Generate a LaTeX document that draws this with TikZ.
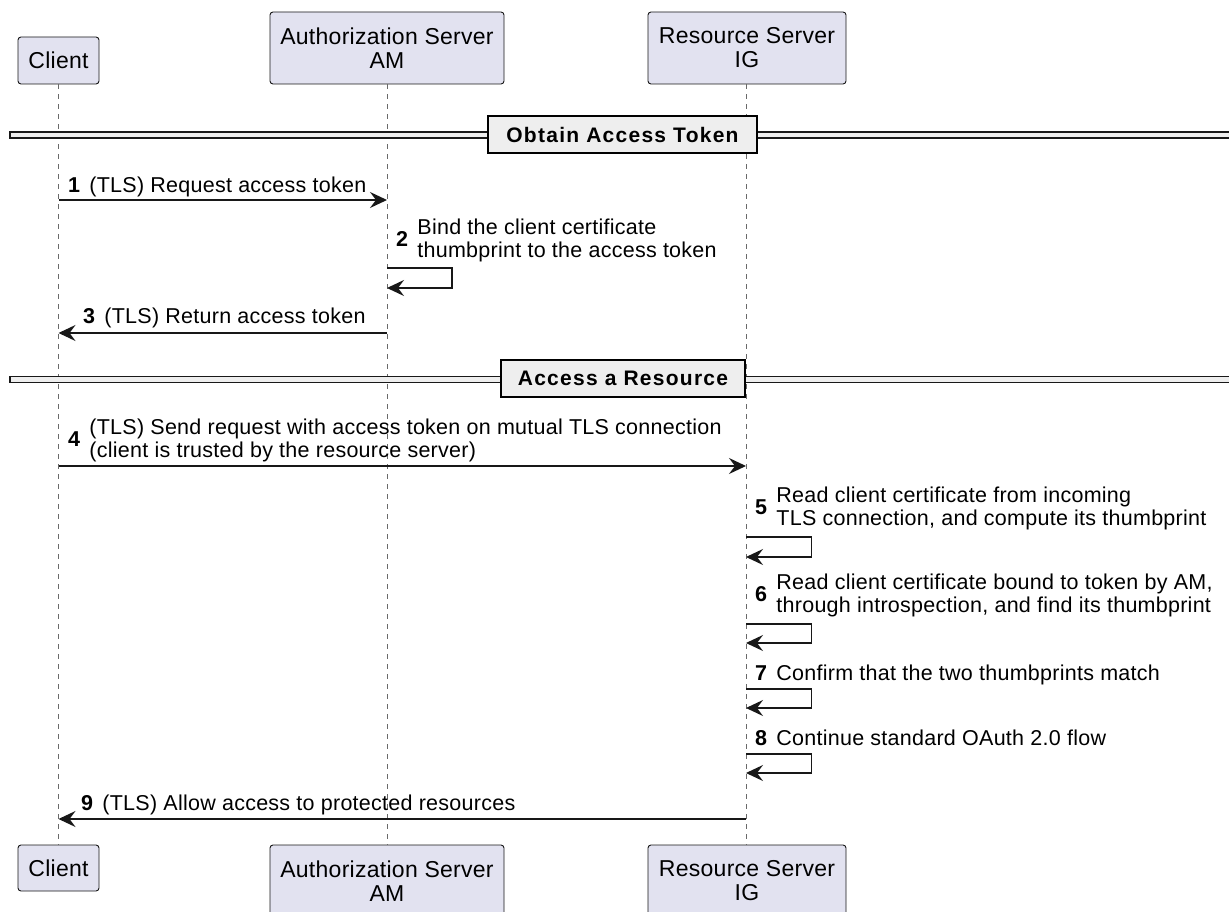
\documentclass[tikz,border=0pt]{standalone}
\usepackage{fontspec}
\setmainfont{Liberation Sans}[LetterSpace=1.2]
\newfontfamily\divfont{Liberation Sans}[LetterSpace=6]
\usetikzlibrary{arrows.meta,calc}
\definecolor{partfill}{HTML}{E2E2F0}
\definecolor{ink}{HTML}{181818}
\definecolor{divfill}{HTML}{EEEEEE}
\begin{document}
\begin{tikzpicture}[x=1pt,y=-1pt,
  part/.style={draw=ink, fill=partfill, rounded corners=3pt, line width=0.9pt,
    font=\fontsize{23}{24}\selectfont, align=center, inner sep=0pt},
  life/.style={draw=ink!65, line width=0.9pt, dash pattern=on 5pt off 5pt},
  msg/.style={draw=ink, line width=1.3pt, -{Stealth[length=17pt,width=16pt,inset=6pt]}},
  lbl/.style={inner sep=0pt, anchor=west, font=\fontsize{21.5}{23}\selectfont},
  divband/.style={draw=ink, fill=divfill, line width=1.6pt},
  divlbl/.style={draw=black, fill=divfill, line width=2.2pt,
    font=\divfont\bfseries\fontsize{21}{22}\selectfont, inner sep=0pt, minimum height=37pt}
]
\useasboundingbox[fill=white] (0,0) rectangle (1229,912);

% participants
\node[part, minimum width=81pt, minimum height=47pt] (clientT) at (58.5,60.5) {Client};
\node[part, minimum width=234pt, minimum height=72pt] (authT) at (387,48) {Authorization Server\\AM};
\node[part, minimum width=198pt, minimum height=72pt] (resT) at (747,48) {Resource Server\\IG};
\node[part, minimum width=81pt, minimum height=46pt] (clientB) at (58.5,868) {Client};
\node[part, minimum width=234pt, minimum height=72pt] (authB) at (387,881) {Authorization Server\\AM};
\node[part, minimum width=198pt, minimum height=72pt] (resB) at (747,881) {Resource Server\\IG};

% lifelines
\draw[life] (clientT.south) -- (clientB.north);
\draw[life] (authT.south) -- (authB.north);
\draw[life] (resT.south -| 746,0) -- (resB.north -| 746,0);

% dividers
\draw[divband] (10,132) rectangle (1240,138);
\node[divlbl, minimum width=269pt] (d1) at (622.5,134.5) {Obtain Access Token};
\draw[divband] (10,376.5) rectangle (1240,382.5);
\node[divlbl, minimum width=244pt] (d2) at (623,378.5) {Access a Resource};

% message endpoints
\coordinate (c1) at (clientT.south |- 0,200);
\coordinate (a1) at (authT.south |- 0,200);
\coordinate (a2s) at (authT.south |- 0,268);
\coordinate (a2e) at (authT.south |- 0,288);
\coordinate (a3) at (authT.south |- 0,333);
\coordinate (c3) at (clientT.south |- 0,333);
\coordinate (c4) at (clientT.south |- 0,466);
\coordinate (r4) at (746,466);
\coordinate (r5s) at (746,537);
\coordinate (r5e) at (746,557);
\coordinate (r6s) at (746,624);
\coordinate (r6e) at (746,643);
\coordinate (r7s) at (746,689);
\coordinate (r7e) at (746,708);
\coordinate (r8s) at (746,754);
\coordinate (r8e) at (746,773);
\coordinate (r9) at (746,819);
\coordinate (c9) at (clientT.south |- 0,819);

% messages
\draw[msg] (c1) -- (a1);
\draw[msg] (a2s) -- ++(65,0) -- ++(0,20) -- (a2e);
\draw[msg] (a3) -- (c3);
\draw[msg] (c4) -- (r4);
\draw[msg] (r5s) -- ++(65.5,0) -- ++(0,20) -- (r5e);
\draw[msg] (r6s) -- ++(65.5,0) -- ++(0,19) -- (r6e);
\draw[msg] (r7s) -- ++(65.5,0) -- ++(0,19) -- (r7e);
\draw[msg] (r8s) -- ++(65.5,0) -- ++(0,19) -- (r8e);
\draw[msg] (r9) -- (c9);

% labels
\node[lbl] (l1) at (68,187) {\textbf{1}\hspace{9pt}(TLS) Request access token};
\node[lbl] (l2) at (396,241.5) {\textbf{2}\hspace{9pt}\begin{tabular}{@{}l@{}}Bind the client certificate\\thumbprint to the access token\end{tabular}};
\node[lbl] (l3) at (83,318) {\textbf{3}\hspace{9pt}(TLS) Return access token};
\node[lbl] (l4) at (68,441) {\textbf{4}\hspace{9pt}\begin{tabular}{@{}l@{}}(TLS) Send request with access token on mutual TLS connection\\(client is trusted by the resource server)\end{tabular}};
\node[lbl] (l5) at (755,509.5) {\textbf{5}\hspace{9pt}\begin{tabular}{@{}l@{}}Read client certificate from incoming\\TLS connection, and compute its thumbprint\end{tabular}};
\node[lbl] (l6) at (755,596.5) {\textbf{6}\hspace{9pt}\begin{tabular}{@{}l@{}}Read client certificate bound to token by AM,\\through introspection, and find its thumbprint\end{tabular}};
\node[lbl] (l7) at (755,675) {\textbf{7}\hspace{9pt}Confirm that the two thumbprints match};
\node[lbl] (l8) at (755,738) {\textbf{8}\hspace{9pt}Continue standard OAuth 2.0 flow};
\node[lbl] (l9) at (81,805) {\textbf{9}\hspace{9pt}(TLS) Allow access to protected resources};
\end{tikzpicture}
\end{document}
